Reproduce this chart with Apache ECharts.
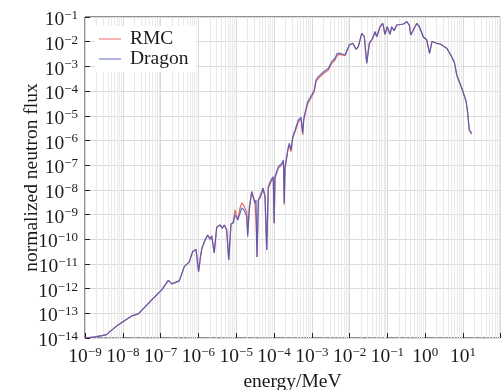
<!DOCTYPE html>
<html>
<head>
<meta charset="utf-8">
<script src="https://cdn.jsdelivr.net/npm/echarts@6/dist/echarts.min.js"></script>
<style>
  html, body { margin: 0; padding: 0; background: #fff; }
  #chart { width: 501px; height: 390px; }
</style>
</head>
<body>
<div id="chart"></div>
<script>
// energy grid (MeV), shared by both curves
const energy = [
  1.00e-9, 1.84e-9, 3.60e-9, 7.46e-9, 1.72e-8, 2.57e-8, 5.82e-8, 1.07e-7, 1.60e-7, 1.97e-7,
  3.12e-7, 4.24e-7, 5.74e-7, 7.06e-7, 8.64e-7, 1.01e-6, 1.14e-6, 1.24e-6, 1.50e-6, 1.76e-6,
  2.03e-6, 2.25e-6, 2.48e-6, 2.62e-6, 3.05e-6, 3.73e-6, 4.29e-6, 4.84e-6, 5.61e-6, 6.34e-6,
  7.28e-6, 8.38e-6, 9.29e-6, 1.10e-5, 1.26e-5, 1.40e-5, 1.61e-5, 1.90e-5, 2.01e-5, 2.22e-5,
  2.57e-5, 2.90e-5, 3.14e-5, 3.34e-5, 3.55e-5, 3.85e-5, 4.45e-5, 5.12e-5, 5.78e-5, 6.41e-5,
  7.06e-5, 8.34e-5, 9.57e-5, 1.01e-4, 1.06e-4, 1.30e-4, 1.60e-4, 1.78e-4, 1.86e-4, 1.95e-4,
  2.30e-4, 2.54e-4, 2.82e-4, 3.13e-4, 3.60e-4, 4.40e-4, 5.18e-4, 5.74e-4, 6.11e-4, 6.90e-4,
  7.80e-4, 9.93e-4, 1.16e-3, 1.29e-3, 1.49e-3, 2.01e-3, 2.74e-3, 3.36e-3, 4.11e-3, 4.73e-3,
  5.57e-3, 7.55e-3, 9.82e-3, 1.21e-2, 1.48e-2, 1.70e-2, 2.09e-2, 2.45e-2, 2.83e-2, 3.32e-2,
  4.08e-2, 4.70e-2, 5.21e-2, 6.37e-2, 7.51e-2, 8.65e-2, 9.93e-2, 1.17e-1, 1.30e-1, 1.50e-1,
  1.76e-1, 2.64e-1, 3.24e-1, 3.79e-1, 4.13e-1, 4.84e-1, 5.96e-1, 6.98e-1, 8.91e-1, 1.10,
  1.30, 1.51, 2.01, 2.47, 3.71, 5.02, 5.96, 6.81, 9.25, 12.0,
  13.2, 14.6, 17.0
];

const dragonFlux = [
  1.00e-14, 1.11e-14, 1.34e-14, 3.39e-14, 7.85e-14, 9.46e-14, 3.49e-13, 8.85e-13, 2.15e-12, 1.55e-12,
  2.05e-12, 7.78e-12, 1.21e-11, 3.15e-11, 3.86e-11, 4.88e-12, 2.11e-11, 4.32e-11, 9.37e-11, 1.49e-10,
  1.00e-10, 1.36e-10, 1.24e-10, 2.79e-11, 3.06e-10, 3.79e-10, 2.79e-10, 3.79e-10, 2.38e-10, 1.45e-11,
  4.16e-10, 4.70e-10, 9.64e-10, 6.04e-10, 1.13e-9, 1.85e-9, 1.54e-9, 8.22e-10, 1.27e-10, 1.54e-9,
  8.46e-9, 9.91e-9, 2.86e-9, 3.90e-9, 1.92e-11, 3.90e-9, 5.31e-9, 1.16e-8, 5.31e-9, 3.69e-11,
  1.35e-8, 2.52e-8, 3.42e-8, 4.45e-10, 3.42e-8, 8.69e-8, 1.19e-7, 1.62e-7, 2.86e-9, 7.71e-8,
  4.12e-7, 7.71e-7, 4.12e-7, 1.43e-6, 2.66e-6, 6.76e-6, 8.69e-6, 2.01e-6, 7.92e-6, 1.72e-5,
  3.72e-5, 6.95e-5, 1.11e-4, 2.81e-4, 3.83e-4, 5.93e-4, 8.38e-4, 1.55e-3, 2.13e-3, 3.39e-3,
  3.39e-3, 2.90e-3, 7.35e-3, 8.61e-3, 4.92e-3, 6.28e-3, 2.19e-2, 1.59e-2, 1.34e-3, 8.61e-3,
  1.37e-2, 2.54e-2, 1.59e-2, 4.05e-2, 5.56e-2, 2.00e-2, 4.05e-2, 2.00e-2, 4.05e-2, 2.79e-2,
  4.74e-2, 5.21e-2, 6.45e-2, 4.74e-2, 1.87e-2, 2.98e-2, 5.46e-2, 4.05e-2, 1.55e-2, 1.17e-2,
  3.39e-3, 1.02e-2, 8.61e-3, 8.07e-3, 5.41e-3, 2.47e-3, 1.37e-3, 4.49e-4, 1.30e-4, 3.97e-5,
  1.43e-5, 2.66e-6, 1.95e-6
];

const rmcFlux = [
  1.00e-14, 1.11e-14, 1.34e-14, 3.39e-14, 7.85e-14, 9.46e-14, 3.49e-13, 8.85e-13, 2.15e-12, 1.55e-12,
  2.05e-12, 7.78e-12, 1.21e-11, 3.15e-11, 3.86e-11, 4.88e-12, 2.11e-11, 4.32e-11, 9.37e-11, 1.49e-10,
  1.00e-10, 1.36e-10, 1.24e-10, 2.79e-11, 3.06e-10, 3.79e-10, 2.79e-10, 3.79e-10, 2.38e-10, 1.45e-11,
  4.16e-10, 4.70e-10, 1.54e-9, 6.04e-10, 1.85e-9, 2.95e-9, 2.23e-9, 1.27e-9, 1.64e-10, 2.03e-9,
  8.46e-9, 9.91e-9, 2.86e-9, 6.04e-10, 1.92e-11, 3.90e-9, 6.83e-9, 1.16e-8, 5.31e-9, 3.69e-11,
  1.15e-8, 2.14e-8, 2.91e-8, 4.45e-10, 2.91e-8, 7.39e-8, 1.01e-7, 1.38e-7, 2.50e-9, 6.55e-8,
  3.50e-7, 6.55e-7, 3.50e-7, 1.22e-6, 2.26e-6, 5.75e-6, 7.39e-6, 1.66e-6, 6.73e-6, 1.46e-5,
  3.16e-5, 5.91e-5, 9.44e-5, 2.39e-4, 3.26e-4, 5.04e-4, 7.12e-4, 1.32e-3, 1.81e-3, 2.88e-3,
  3.05e-3, 2.70e-3, 7.35e-3, 8.61e-3, 4.92e-3, 6.28e-3, 2.19e-2, 1.59e-2, 1.34e-3, 8.61e-3,
  1.37e-2, 2.54e-2, 1.59e-2, 4.05e-2, 5.56e-2, 2.00e-2, 4.05e-2, 2.00e-2, 4.05e-2, 2.79e-2,
  4.74e-2, 5.21e-2, 6.45e-2, 4.74e-2, 1.87e-2, 2.98e-2, 5.46e-2, 4.05e-2, 1.55e-2, 1.17e-2,
  3.39e-3, 1.02e-2, 8.61e-3, 8.07e-3, 5.41e-3, 2.47e-3, 1.37e-3, 4.49e-4, 1.30e-4, 3.97e-5,
  1.43e-5, 2.66e-6, 1.80e-6
];

const seriesNames = ['RMC', 'Dragon'];
const xDecades = [-9, -8, -7, -6, -5, -4, -3, -2, -1, 0, 1];

const FONT = 'Liberation Serif';
const INK = '#1a1a1a';

// minor grid lines at 2..9 x 10^k (log axis in echarts puts minors evenly in log space)
const minorX = [];
xDecades.forEach(k => {
  for (let m = 2; m <= 9; m++) minorX.push(m * Math.pow(10, k));
});

function pow10Label(v) {
  const lg = Math.log10(v);
  const e = Math.round(lg);
  if (Math.abs(lg - e) > 1e-6) return '';
  return '{b|10}{s|' + (e < 0 ? '\u2212' : '') + Math.abs(e) + '}';
}

const rich = {
  b: { fontFamily: FONT, fontSize: 19.5, color: INK, lineHeight: 22 },
  s: { fontFamily: FONT, fontSize: 13, color: INK, lineHeight: 16, verticalAlign: 'top' }
};

const chart = echarts.init(document.getElementById('chart'), null, { renderer: 'canvas' });

chart.setOption({
  animation: false,
  backgroundColor: '#fff',
  grid: {
    left: 85, right: 1, top: 17, bottom: 52,
    outerBoundsMode: 'none',
    containLabel: false,
    show: true, borderColor: '#222', borderWidth: 1
  },
  legend: {
    data: [
      { name: 'RMC', itemStyle: { opacity: 0.6 } },
      { name: 'Dragon', itemStyle: { opacity: 0.6 } }
    ],
    orient: 'vertical',
    left: 95, top: 26,
    backgroundColor: '#fff',
    padding: [3, 8, 3, 4],
    itemGap: 0,
    icon: 'rect',
    itemWidth: 22,
    itemHeight: 1.5,
    textStyle: { fontFamily: FONT, fontSize: 19.5, color: INK, lineHeight: 20, padding: [0, 0, 0, 4] }
  },
  xAxis: {
    type: 'log',
    min: 1e-9,
    max: 95,
    interval: 1,
    name: 'energy/MeV',
    nameLocation: 'middle',
    nameGap: 34,
    nameMoveOverlap: false,
    nameTextStyle: { fontFamily: FONT, fontSize: 19.5, color: INK },
    axisLine: { show: false },
    axisTick: { show: true, inside: true, length: 5, lineStyle: { color: '#222' } },
    axisLabel: { formatter: pow10Label, rich: rich, margin: 8, showMinLabel: true, showMaxLabel: true },
    splitLine: { show: true, lineStyle: { color: '#dadada', width: 1 } },
    minorTick: { show: false },
    minorSplitLine: { show: false }
  },
  yAxis: {
    type: 'log',
    min: 1e-14,
    max: 1e-1,
    interval: 1,
    name: 'normalized neutron flux',
    nameLocation: 'middle',
    nameGap: 43,
    nameMoveOverlap: false,
    nameTextStyle: { fontFamily: FONT, fontSize: 19.5, color: INK },
    axisLine: { show: false },
    axisTick: { show: true, inside: true, length: 5, lineStyle: { color: '#222' } },
    axisLabel: { formatter: pow10Label, rich: rich, margin: 7, padding: [6, 0, 0, 0], showMinLabel: true, showMaxLabel: true },
    splitLine: { show: true, lineStyle: { color: '#dadada', width: 1 } }
  },
  series: [
    {
      name: '_minorgrid',
      type: 'line',
      data: [],
      z: 1,
      silent: true,
      markLine: {
        silent: true,
        z: 1,
        precision: 20,
        symbol: 'none',
        label: { show: false },
        lineStyle: { color: '#e9e9e9', width: 1, type: 'solid' },
        data: minorX.map(v => ({ xAxis: v }))
      }
    },
    {
      name: 'RMC',
      type: 'line',
      symbol: 'none',
      z: 3,
      data: energy.map((e, i) => [e, rmcFlux[i]]),
      lineStyle: { color: '#e85a58', width: 1.2, opacity: 0.9 },
      itemStyle: { color: '#e85a58' }
    },
    {
      name: 'Dragon',
      type: 'line',
      symbol: 'none',
      z: 4,
      data: energy.map((e, i) => [e, dragonFlux[i]]),
      lineStyle: { color: '#4656b8', width: 1.2, opacity: 0.85 },
      itemStyle: { color: '#4656b8' }
    }
  ]
});
</script>
</body>
</html>
